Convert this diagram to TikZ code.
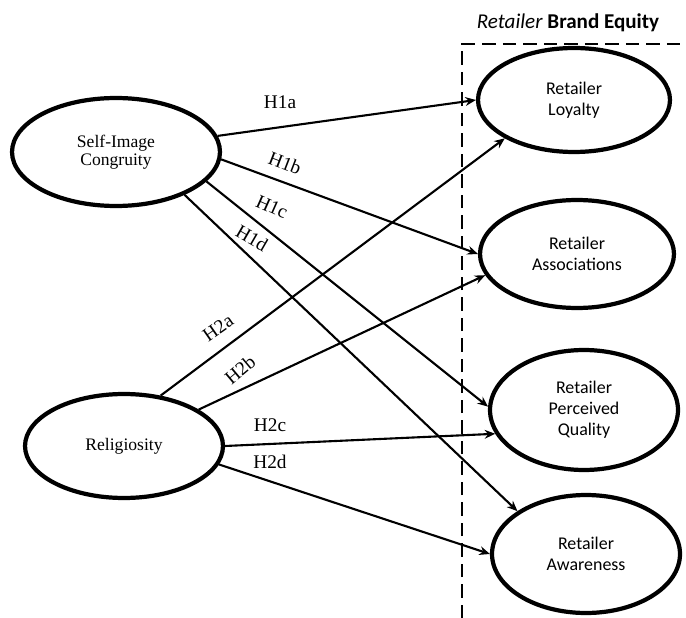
\documentclass[tikz,border=0pt]{standalone}
\usepackage{fontspec}
\setmainfont{Liberation Serif}
\newfontfamily\calibri{Carlito}
\usetikzlibrary{arrows.meta,shapes.geometric}

\begin{document}
\begin{tikzpicture}[
  x=0.02cm,y=-0.02cm,
  >={Stealth[length=6pt,width=5pt]},
  construct/.style={ellipse,draw=black,line width=2.4pt,align=center,inner sep=1pt,
                    font=\fontsize{10}{10.5}\selectfont},
  equity/.style={construct,font=\calibri\fontsize{10.2}{12}\selectfont},
  flow/.style={->,line width=1.2pt},
  lab/.style={font=\fontsize{11}{12}\selectfont,inner sep=1pt},
  frame/.style={line width=1.6pt,dash pattern=on 0.27cm off 0.14cm}
]
\useasboundingbox (0,0) rectangle (686,618);

% ---- konstrukty vlevo ----
\node[construct,minimum width=4.16cm,minimum height=2.16cm] (sic) at (116,152) {Self-Image\\Congruity};
\node[construct,minimum width=3.96cm,minimum height=2.08cm] (rel) at (124,446) {Religiosity};

% ---- retailer brand equity vpravo ----
\node[equity,minimum width=3.84cm,minimum height=2.08cm] (loy) at (574,100) {Retailer\\Loyalty};
\node[equity,minimum width=3.88cm,minimum height=2.16cm] (ass) at (577,254) {Retailer\\Associations};
\node[equity,minimum width=3.76cm,minimum height=2.40cm] (pq) at (584,410) {Retailer\\Perceived\\Quality};
\node[equity,minimum width=3.76cm,minimum height=2.36cm] (awa) at (586,554) {Retailer\\Awareness};

% ---- carkovany ramec ----
\coordinate (fb) at (462,618);
\coordinate (fc) at (462,44);
\coordinate (fr) at (686,44);
\draw[frame] (fb) -- (fc) -- (fr);
\node[font=\calibri\fontsize{12}{14}\selectfont] (rbe) at (568,23) {\textit{Retailer} \textbf{Brand Equity}};

% ---- hypotezy H1 ----
\draw[flow] (sic.9) -- (loy.180);
\draw[flow] (sic.-4) -- (ass.180);
\draw[flow] (sic.-18) -- (pq.178);
\draw[flow] (sic.-32) -- (awa.148);

% ---- hypotezy H2 ----
\draw[flow] (rel.54) -- (loy.209);
\draw[flow] (rel.26) -- (ass.193);
\draw[flow] (rel.0) -- (pq.195);
\draw[flow] (rel.-11) -- (awa.180);

% ---- popisky ----
\node[lab] (h1a) at (280,102) {H1a};
\node[lab,rotate=-21] (h1b) at (285,163) {H1b};
\node[lab,rotate=-24] (h1c) at (272,207) {H1c};
\node[lab,rotate=-30] (h1d) at (252,238) {H1d};
\node[lab,rotate=35] (h2a) at (218,328) {H2a};
\node[lab,rotate=40] (h2b) at (240,370) {H2b};
\node[lab] (h2c) at (270,425) {H2c};
\node[lab] (h2d) at (270,462) {H2d};

\end{tikzpicture}
\end{document}
